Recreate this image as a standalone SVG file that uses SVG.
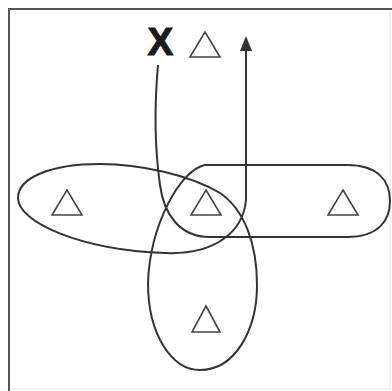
<svg xmlns="http://www.w3.org/2000/svg" width="392" height="391" viewBox="0 0 392 391">
  <style>
    .frame { stroke: #555; stroke-width: 2; fill: none; }
    .faint { stroke: #e6e6e6; stroke-width: 1; fill: none; }
    .path { stroke: #333; stroke-width: 2; fill: none; stroke-linejoin: round; }
    .tri { stroke: #444; stroke-width: 1.6; fill: none; stroke-linejoin: miter; }
    .lbl { font-family: "Liberation Sans", Arial, sans-serif; font-weight: bold; font-size: 38px; fill: #1a1a1a; stroke: #1a1a1a; stroke-width: 1.2; }
  </style>
  <rect width="392" height="391" fill="#fff"/>
  <g id="frame">
    <line class="frame" x1="9" y1="9" x2="392" y2="9"/>
    <line class="frame" x1="9" y1="8" x2="9" y2="391"/>
    <line class="faint" x1="390" y1="10" x2="390" y2="389"/>
    <line class="faint" x1="10" y1="389" x2="390" y2="389"/>
  </g>
  <g id="connectors">
    <path class="path" d="M158,65 C154,110 155,150 160,185 C164,215 180,237 210,237 L347,237 C377,237 390,222 390,201 C390,180 377,165 347,165 L205,165 C180,170 150,225 148,283 C148,335 172,370 200,370 C235,370 257,330 257,285 C257,245 245,210 220,193 C190,175 140,164 100,164 C50,164 18,178 18,198 C18,222 80,250 165,253 C215,255 243,232 246,200 L246,50"/>
    <polygon points="246,36 252,51 240,51" fill="#333"/>
  </g>
  <g id="label-x">
    <text class="lbl" x="160.5" y="55" text-anchor="middle">X</text>
  </g>
  <g id="tri-top"><polygon class="tri" points="205,32 220,57 190,57"/></g>
  <g id="tri-left"><polygon class="tri" points="67,190 82,215 52,215"/></g>
  <g id="tri-center"><polygon class="tri" points="206,190 221,215 191,215"/></g>
  <g id="tri-right"><polygon class="tri" points="343,190 358,215 328,215"/></g>
  <g id="tri-bottom"><polygon class="tri" points="206,306 220,332 192,332"/></g>
</svg>
